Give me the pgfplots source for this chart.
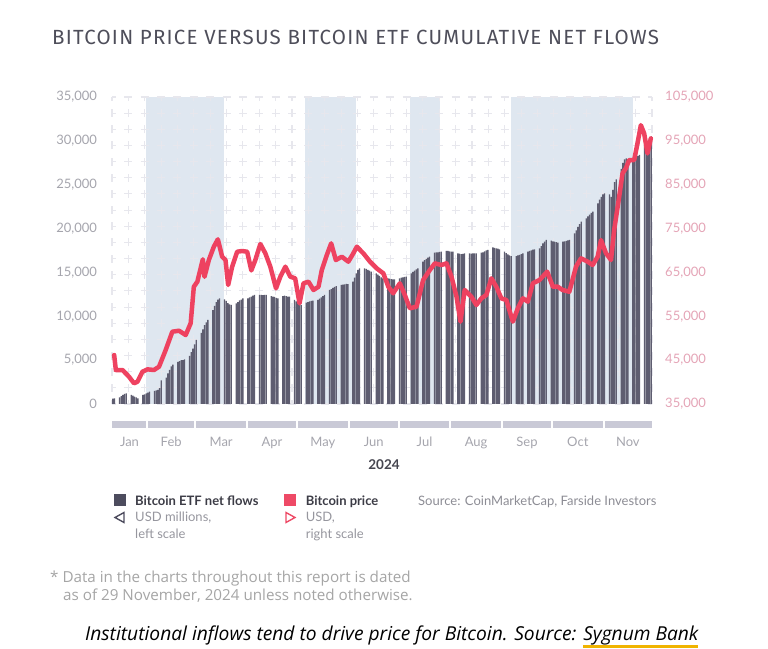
\documentclass[border=0pt]{standalone}
\usepackage{fontspec}
\setmainfont{Lato}
\newfontfamily\titlefont[LetterSpace=6]{Fira Sans}
\newfontfamily\notefont{Open Sans}
\newfontfamily\capfont{Open Sans}
\usepackage{pgfplots}
\usepackage{pgfplotstable}
\pgfplotsset{compat=1.18}

\definecolor{barc}{RGB}{94,93,112}
\definecolor{linec}{RGB}{238,66,96}
\definecolor{shadec}{RGB}{223,231,240}
\definecolor{crossc}{RGB}{231,231,237}
\definecolor{bandc}{RGB}{201,201,214}
\definecolor{tickc}{RGB}{165,165,173}
\definecolor{rtickc}{RGB}{228,164,182}
\definecolor{titlec}{RGB}{78,78,90}
\definecolor{yearc}{RGB}{70,70,80}
\definecolor{legdark}{RGB}{77,76,94}
\definecolor{legred}{RGB}{238,74,102}
\definecolor{legtext}{RGB}{60,60,70}
\definecolor{legsub}{RGB}{150,150,158}
\definecolor{srcc}{RGB}{140,140,148}
\definecolor{notec}{RGB}{165,165,165}
\definecolor{capy}{RGB}{240,180,0}

% cumulative ETF net flows, USD millions; d = trading day counted from 11 Jan 2024
\pgfplotstableread[row sep=\\]{
d v\\
0 600\\ 1 650\\
4 760\\ 5 900\\ 6 1050\\ 7 1150\\ 8 1220\\
11 1030\\ 12 950\\ 13 850\\ 14 750\\ 15 650\\
18 1030\\ 19 1100\\ 20 1200\\ 21 1300\\ 22 1400\\
25 1500\\ 26 1550\\ 27 1600\\ 28 1800\\ 29 2700\\
32 3000\\ 33 3500\\ 34 3900\\ 35 4300\\ 36 4500\\
39 4800\\ 40 4900\\ 41 5000\\ 42 5000\\ 43 5100\\
46 5500\\ 47 5900\\ 48 6300\\ 49 6800\\ 50 7300\\
53 8100\\ 54 8500\\ 55 9000\\ 56 9300\\ 57 9600\\
60 10700\\ 61 11200\\ 62 11600\\ 63 11900\\ 64 12050\\
67 11930\\ 68 11750\\ 69 11500\\ 70 11350\\ 71 11290\\
74 11480\\ 75 11600\\ 76 11800\\ 77 11900\\ 78 12050\\
81 12050\\ 82 12150\\ 83 12250\\ 84 12350\\ 85 12430\\
88 12430\\ 89 12450\\ 90 12400\\ 91 12450\\ 92 12430\\
95 12310\\ 96 12250\\ 97 12200\\ 98 12100\\ 99 12050\\
102 12300\\ 103 12350\\ 104 12300\\ 105 12250\\ 106 12230\\
109 11860\\ 110 11700\\ 111 11500\\ 112 11350\\ 113 11290\\
116 11550\\ 117 11600\\ 118 11700\\ 119 11750\\ 120 11780\\
123 11860\\ 124 12000\\ 125 12150\\ 126 12300\\ 127 12430\\
130 13000\\ 131 13100\\ 132 13250\\ 133 13350\\ 134 13450\\
137 13570\\ 138 13600\\ 139 13650\\ 140 13700\\ 141 13680\\
144 13940\\ 145 14400\\ 146 14900\\ 147 15300\\ 148 15470\\
151 15470\\ 152 15400\\ 153 15300\\ 154 15200\\ 155 15090\\
158 14900\\ 159 14750\\ 160 14600\\ 161 14450\\ 162 14330\\
165 14330\\ 166 14300\\ 167 14250\\ 168 14220\\ 169 14220\\
172 14330\\ 173 14400\\ 174 14450\\ 175 14500\\ 176 14520\\
179 14900\\ 180 15050\\ 181 15200\\ 182 15350\\ 183 15470\\
186 16220\\ 187 16400\\ 188 16550\\ 189 16700\\ 190 16790\\
193 17250\\ 194 17300\\ 195 17300\\ 196 17350\\ 197 17360\\
200 17470\\ 201 17450\\ 202 17400\\ 203 17380\\ 204 17360\\
207 17170\\ 208 17150\\ 209 17100\\ 210 17120\\ 211 17170\\
214 17170\\ 215 17150\\ 216 17170\\ 217 17180\\ 218 17170\\
221 17250\\ 222 17300\\ 223 17400\\ 224 17500\\ 225 17560\\
228 17860\\ 229 17800\\ 230 17750\\ 231 17700\\ 232 17640\\
235 17360\\ 236 17200\\ 237 17050\\ 238 16950\\ 239 16870\\
242 16870\\ 243 16950\\ 244 17000\\ 245 17100\\ 246 17170\\
249 17360\\ 250 17450\\ 251 17500\\ 252 17600\\ 253 17640\\
256 17750\\ 257 18000\\ 258 18300\\ 259 18500\\ 260 18700\\
263 18620\\ 264 18550\\ 265 18500\\ 266 18450\\ 267 18390\\
270 18500\\ 271 18550\\ 272 18600\\ 273 18650\\ 274 18700\\
277 19460\\ 278 19800\\ 279 20200\\ 280 20500\\ 281 20780\\
284 21170\\ 285 21400\\ 286 21600\\ 287 21800\\ 288 21920\\
291 22880\\ 292 23300\\ 293 23600\\ 294 23900\\ 295 24020\\
298 23900\\ 299 23600\\ 300 24400\\ 301 25300\\ 302 25600\\
305 26800\\ 306 27500\\ 307 27900\\ 308 28000\\ 309 27800\\
312 27900\\ 313 28000\\ 314 28200\\ 315 28300\\ 316 28400\\
319 29500\\ 320 29800\\ 321 30000\\ 322 30300\\ 323 30500\\
}\flows

% bitcoin price, USD
\pgfplotstableread[row sep=\\]{
d p\\
0.8 46170\\ 1.8 42750\\ 5.8 42750\\ 9.7 41220\\ 12.7 39720\\ 14.8 40090\\
17.8 42360\\ 20.8 42900\\ 24.7 42750\\ 27.7 43500\\ 31.7 47300\\ 35.7 51480\\
39.7 51710\\ 43.7 50730\\ 46.7 53400\\ 48.6 61740\\ 50.7 62880\\ 54.0 68000\\
55.0 64000\\ 57.6 67830\\ 60.6 70860\\ 63.0 72550\\ 65.6 68580\\ 67.6 67830\\
69.2 62130\\ 71.6 66310\\ 74.6 69720\\ 77.6 69880\\ 80.6 69720\\ 83.1 65450\\
85.5 67830\\ 88.5 71480\\ 91.5 69360\\ 94.5 66310\\ 97.9 61370\\ 100.5 64020\\
103.5 66310\\ 106.5 64020\\ 109.4 63660\\ 112.0 57960\\ 114.4 62520\\ 117.4 62880\\
120.4 60990\\ 123.4 61740\\ 125.4 65550\\ 128.4 68970\\ 131.0 71630\\ 133.8 67830\\
137.4 68580\\ 141.3 67450\\ 144.3 69360\\ 146.4 70860\\ 150.3 69360\\ 154.3 67450\\
158.3 65930\\ 162.3 64790\\ 165.3 61740\\ 168.2 60240\\ 172.2 62520\\ 175.2 59850\\
178.2 56820\\ 182.2 57180\\ 186.2 63270\\ 190.2 65550\\ 193.2 67070\\ 197.2 66690\\
200.2 67070\\ 203.2 64020\\ 206.2 59470\\ 208.6 53780\\ 211.1 60990\\ 215.1 59470\\
218.1 57570\\ 221.1 59090\\ 224.1 59850\\ 227.1 63660\\ 230.1 61740\\ 233.1 59090\\
236.1 58710\\ 240.0 53780\\ 243.0 56820\\ 246.0 59090\\ 249.0 58330\\ 252.0 62520\\
256.0 63270\\ 260.6 65170\\ 264.0 61740\\ 266.9 61740\\ 269.9 60990\\ 273.9 60600\\
277.9 66310\\ 280.9 68210\\ 284.9 67450\\ 287.9 66690\\ 290.9 68580\\ 292.9 72380\\
295.9 69360\\ 298.9 67830\\ 300.8 74670\\ 303.8 82260\\ 305.8 87580\\ 307.8 88720\\
309.8 90630\\ 312.8 90630\\ 314.8 94430\\ 316.8 98580\\ 318.8 96680\\ 320.8 92130\\
322.8 95560\\
}\price

\newsavebox\sbbox

\begin{document}
\sbox\sbbox{\capfont\itshape\fontsize{19.2}{22}\selectfont Sygnum Bank}%
\begin{tikzpicture}
\path[use as bounding box] (0,0) rectangle (768pt,648pt);
\pgfplotsset{base/.style={at={(112pt,244pt)}, anchor=south west,
    scale only axis, width=540pt, height=307pt, xmin=-0.5, xmax=323.5},
  nums/.style={scaled y ticks=false,
    /pgf/number format/fixed, /pgf/number format/precision=0,
    /pgf/number format/1000 sep={,},
    /pgf/number format/assume math mode=true}}

% shaded periods
\begin{axis}[base, ymin=0, ymax=35000, hide axis]
\addplot[fill=shadec, draw=none] coordinates {(19.9,35000) (66.7,35000)} \closedcycle;
\addplot[fill=shadec, draw=none] coordinates {(115.3,35000) (145.9,35000)} \closedcycle;
\addplot[fill=shadec, draw=none] coordinates {(178,35000) (196.3,35000)} \closedcycle;
\addplot[fill=shadec, draw=none] coordinates {(238.7,35000) (311.9,35000)} \closedcycle;
\end{axis}

% ETF flows, left scale
\begin{axis}[base, nums, ymin=0, ymax=35000, clip=false,
    axis line style={draw=none}, tick style={draw=none},
    major tick length=0pt, minor tick length=0pt,
    ytick={0,5000,...,35000}, ytick pos=left,
    xtick={10,35,65,95.5,126,156.5,187,218,248.5,279,309},
    xticklabels={Jan,Feb,Mar,Apr,May,Jun,Jul,Aug,Sep,Oct,Nov},
    xtick pos=bottom,
    minor xtick={-0.5,9.318,19.136,28.955,38.773,48.591,58.409,68.227,78.045,87.864,97.682,107.5,117.318,127.136,136.955,146.773,156.591,166.409,176.227,186.045,195.864,205.682,215.5,225.318,235.136,244.955,254.773,264.591,274.409,284.227,294.045,303.864,313.682,323.5},
    minor ytick={0,1842.1,3684.2,5526.3,7368.4,9210.5,11052.6,12894.7,14736.8,16578.9,18421.1,20263.2,22105.3,23947.4,25789.5,27631.6,29473.7,31315.8,33157.9,35000},
    xminorgrids=true, yminorgrids=true,
    minor x grid style={draw=crossc, line width=1.1pt, dash pattern=on 8pt off 8.158pt, dash phase=4pt},
    minor y grid style={draw=crossc, line width=1.1pt, dash pattern=on 8pt off 8.364pt, dash phase=4pt},
    ticklabel style={font=\fontsize{13}{15}\selectfont, text=tickc},
    yticklabel style={xshift=-11.5pt},
    xticklabel style={yshift=-29.5pt},
]
\addplot[ybar, bar width=0.8, bar shift=0pt, fill=barc, draw=none] table[x=d, y=v] {\flows};
% month bands under the axis
\fill[bandc] (axis cs:-0.5,-1940) rectangle (axis cs:19.9,-2740);
\fill[bandc] (axis cs:21.1,-1940) rectangle (axis cs:48.9,-2740);
\fill[bandc] (axis cs:50.1,-1940) rectangle (axis cs:79.9,-2740);
\fill[bandc] (axis cs:81.1,-1940) rectangle (axis cs:109.9,-2740);
\fill[bandc] (axis cs:111.1,-1940) rectangle (axis cs:140.9,-2740);
\fill[bandc] (axis cs:142.1,-1940) rectangle (axis cs:170.9,-2740);
\fill[bandc] (axis cs:172.1,-1940) rectangle (axis cs:201.9,-2740);
\fill[bandc] (axis cs:203.1,-1940) rectangle (axis cs:232.9,-2740);
\fill[bandc] (axis cs:234.1,-1940) rectangle (axis cs:262.9,-2740);
\fill[bandc] (axis cs:264.1,-1940) rectangle (axis cs:293.9,-2740);
\fill[bandc] (axis cs:295.1,-1940) rectangle (axis cs:323.5,-2740);
\end{axis}

% price, right scale
\begin{axis}[base, nums, ymin=35000, ymax=105000, clip=false,
    axis line style={draw=none}, tick style={draw=none}, major tick length=0pt,
    hide x axis,
    ytick={35000,45000,...,105000}, ytick pos=right, yticklabel pos=right,
    ticklabel style={font=\fontsize{13}{15}\selectfont, text=rtickc},
    yticklabel style={xshift=9.7pt},
]
\addplot[linec, line width=4.5pt, line join=round, line cap=round] table[x=d, y=p] {\price};
\end{axis}

% title
\node[anchor=base west, inner sep=0, text=titlec, font=\titlefont\fontsize{20.5}{24}\selectfont]
  at (52pt,603pt) {BITCOIN PRICE VERSUS BITCOIN ETF CUMULATIVE NET FLOWS};
\node[anchor=base, inner sep=0, text=yearc, font=\bfseries\fontsize{13.5}{16}\selectfont]
  at (384pt,178pt) {2024};

% legend
\fill[legdark] (114pt,142pt) rectangle (126pt,154pt);
\node[anchor=base west, inner sep=0, text=legtext, font=\bfseries\fontsize{13}{15}\selectfont]
  at (135pt,142pt) {Bitcoin ETF net flows};
\draw[legdark, line width=1.4pt] (115pt,130.5pt) -- (124pt,135.5pt) -- (124pt,125.5pt) -- cycle;
\node[anchor=base west, inner sep=0, text=legsub, font=\fontsize{13}{15}\selectfont]
  at (135pt,126.3pt) {USD millions,};
\node[anchor=base west, inner sep=0, text=legsub, font=\fontsize{13}{15}\selectfont]
  at (135pt,110pt) {left scale};
\fill[legred] (284pt,142pt) rectangle (296pt,154pt);
\node[anchor=base west, inner sep=0, text=legtext, font=\bfseries\fontsize{13}{15}\selectfont]
  at (305.6pt,142pt) {Bitcoin price};
\draw[legred, line width=1.4pt] (286pt,125.5pt) -- (286pt,135.5pt) -- (295pt,130.5pt) -- cycle;
\node[anchor=base west, inner sep=0, text=legsub, font=\fontsize{13}{15}\selectfont]
  at (305.6pt,126.3pt) {USD,};
\node[anchor=base west, inner sep=0, text=legsub, font=\fontsize{13}{15}\selectfont]
  at (305.6pt,110pt) {right scale};
\node[anchor=base west, inner sep=0, text=srcc, font=\fontsize{13}{15}\selectfont]
  at (418pt,142pt) {Source: CoinMarketCap, Farside Investors};

% footnote and caption
\node[anchor=base west, inner sep=0, text=notec, font=\notefont\fontsize{15.2}{18}\selectfont]
  at (50pt,66pt) {* Data in the charts throughout this report is dated};
\node[anchor=base west, inner sep=0, text=notec, font=\notefont\fontsize{15.2}{18}\selectfont]
  at (63pt,48pt) {as of 29 November, 2024 unless noted otherwise.};
\node[anchor=base west, inner sep=0, text=black, font=\capfont\itshape\fontsize{19.2}{22}\selectfont]
  at (85pt,8pt) {Institutional inflows tend to drive price for Bitcoin. Source: \rlap{\color{capy}\rule[-7.5pt]{\wd\sbbox}{2.8pt}}\usebox\sbbox};
\end{tikzpicture}
\end{document}
